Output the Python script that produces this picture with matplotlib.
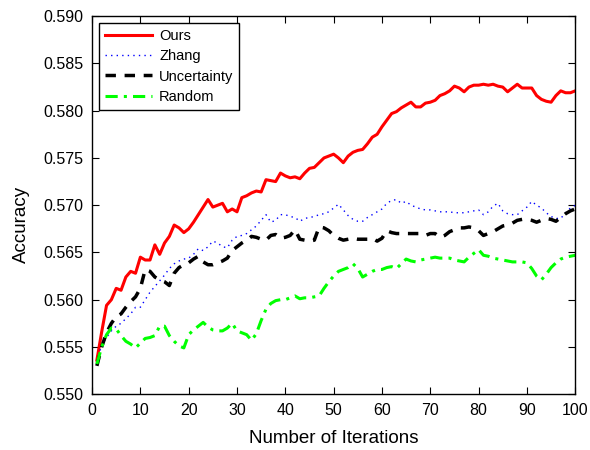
import matplotlib
matplotlib.use("Agg")
import matplotlib.pyplot as plt
import numpy as np

plt.rcParams['font.family'] = ['Liberation Sans', 'DejaVu Sans']

iterations = list(range(1, 101))

ours = [0.5536, 0.5566, 0.5594, 0.5600, 0.5612, 0.5610, 0.5624, 0.5630, 0.5628, 0.5645,
        0.5642, 0.5642, 0.5658, 0.5648, 0.5660, 0.5667, 0.5679, 0.5676, 0.5671, 0.5675,
        0.5682, 0.5690, 0.5698, 0.5706, 0.5698, 0.5700, 0.5702, 0.5693, 0.5696, 0.5693,
        0.5708, 0.5710, 0.5713, 0.5715, 0.5714, 0.5727, 0.5726, 0.5725, 0.5734, 0.5731,
        0.5729, 0.5730, 0.5728, 0.5734, 0.5739, 0.5740, 0.5745, 0.5750, 0.5752, 0.5754,
        0.5750, 0.5745, 0.5752, 0.5756, 0.5758, 0.5759, 0.5765, 0.5772, 0.5775, 0.5783,
        0.5790, 0.5797, 0.5799, 0.5803, 0.5806, 0.5809, 0.5804, 0.5804, 0.5808, 0.5809,
        0.5811, 0.5816, 0.5818, 0.5821, 0.5826, 0.5824, 0.5820, 0.5825, 0.5827, 0.5827,
        0.5828, 0.5827, 0.5828, 0.5826, 0.5825, 0.5820, 0.5824, 0.5828, 0.5824, 0.5824,
        0.5824, 0.5816, 0.5812, 0.5810, 0.5809, 0.5816, 0.5821, 0.5819, 0.5819, 0.5821]

zhang = [0.5535, 0.5552, 0.5560, 0.5567, 0.5572, 0.5575, 0.5580, 0.5585, 0.5592, 0.5592,
         0.5600, 0.5608, 0.5614, 0.5620, 0.5626, 0.5633, 0.5638, 0.5641, 0.5643, 0.5644,
         0.5648, 0.5654, 0.5652, 0.5656, 0.5662, 0.5660, 0.5656, 0.5655, 0.5663, 0.5667,
         0.5668, 0.5670, 0.5674, 0.5678, 0.5684, 0.5690, 0.5682, 0.5684, 0.5690, 0.5690,
         0.5688, 0.5687, 0.5683, 0.5686, 0.5687, 0.5688, 0.5690, 0.5691, 0.5693, 0.5697,
         0.5701, 0.5695, 0.5689, 0.5685, 0.5683, 0.5683, 0.5687, 0.5690, 0.5693, 0.5696,
         0.5702, 0.5705, 0.5706, 0.5702, 0.5704, 0.5700, 0.5698, 0.5696, 0.5695, 0.5695,
         0.5694, 0.5693, 0.5693, 0.5693, 0.5692, 0.5692, 0.5692, 0.5693, 0.5694, 0.5695,
         0.5690, 0.5693, 0.5699, 0.5702, 0.5694, 0.5691, 0.5690, 0.5690, 0.5694, 0.5698,
         0.5704, 0.5700, 0.5697, 0.5692, 0.5688, 0.5686, 0.5686, 0.5692, 0.5697, 0.5700]

uncertainty = [0.5530, 0.5550, 0.5565, 0.5575, 0.5582, 0.5585, 0.5592, 0.5598, 0.5603, 0.5612,
               0.5632, 0.5630, 0.5624, 0.5621, 0.5619, 0.5615, 0.5628, 0.5634, 0.5637, 0.5639,
               0.5643, 0.5646, 0.5640, 0.5637, 0.5637, 0.5639, 0.5641, 0.5644, 0.5652, 0.5656,
               0.5660, 0.5663, 0.5667, 0.5666, 0.5664, 0.5663, 0.5668, 0.5669, 0.5665, 0.5666,
               0.5668, 0.5674, 0.5664, 0.5663, 0.5662, 0.5663, 0.5677, 0.5676, 0.5673, 0.5668,
               0.5665, 0.5663, 0.5664, 0.5665, 0.5664, 0.5664, 0.5664, 0.5665, 0.5662, 0.5665,
               0.5673, 0.5671, 0.5670, 0.5670, 0.5670, 0.5670, 0.5670, 0.5670, 0.5668, 0.5670,
               0.5670, 0.5666, 0.5668, 0.5672, 0.5674, 0.5676, 0.5676, 0.5677, 0.5676, 0.5673,
               0.5668, 0.5670, 0.5672, 0.5675, 0.5678, 0.5679, 0.5681, 0.5684, 0.5685, 0.5685,
               0.5684, 0.5682, 0.5684, 0.5686, 0.5685, 0.5683, 0.5687, 0.5691, 0.5694, 0.5696]

random_sel = [0.5532, 0.5550, 0.5563, 0.5570, 0.5569, 0.5562, 0.5556, 0.5553, 0.5549, 0.5554,
              0.5559, 0.5560, 0.5562, 0.5572, 0.5572, 0.5562, 0.5556, 0.5551, 0.5549, 0.5563,
              0.5568, 0.5572, 0.5576, 0.5571, 0.5568, 0.5567, 0.5567, 0.5570, 0.5575, 0.5567,
              0.5565, 0.5563, 0.5557, 0.5564, 0.5578, 0.5590, 0.5596, 0.5599, 0.5600, 0.5600,
              0.5602, 0.5604, 0.5601, 0.5602, 0.5602, 0.5603, 0.5604, 0.5612, 0.5619, 0.5625,
              0.5630, 0.5632, 0.5634, 0.5638, 0.5633, 0.5624, 0.5627, 0.5630, 0.5632, 0.5632,
              0.5634, 0.5635, 0.5633, 0.5638, 0.5643, 0.5641, 0.5640, 0.5642, 0.5643, 0.5644,
              0.5645, 0.5644, 0.5644, 0.5644, 0.5642, 0.5641, 0.5640, 0.5645, 0.5649, 0.5653,
              0.5647, 0.5646, 0.5644, 0.5643, 0.5642, 0.5641, 0.5640, 0.5640, 0.5640, 0.5639,
              0.5633, 0.5625, 0.5621, 0.5627, 0.5634, 0.5639, 0.5643, 0.5645, 0.5646, 0.5647]

x_ticks = list(range(0, 101, 10))
y_ticks = [0.550, 0.555, 0.560, 0.565, 0.570, 0.575, 0.580, 0.585, 0.590]

fig = plt.figure(figsize=(5.9, 4.5), dpi=100)
ax = fig.add_axes([0.156, 0.124, 0.819, 0.840])

ax.plot(iterations, ours, color='#ff0000', lw=2.2, ls='-', label='Ours')
ax.plot(iterations, zhang, color='#0000ff', lw=1.0, ls=(0, (1, 3)), label='Zhang')
ax.plot(iterations, uncertainty, color='black', lw=2.5, ls=(0, (3, 2.5)), label='Uncertainty')
ax.plot(iterations, random_sel, color='#00ff00', lw=2.2, ls=(0, (4, 2, 1, 2)), label='Random')

ax.set_xlim(0, 100)
ax.set_ylim(0.550, 0.590)
ax.set_xticks(x_ticks)
ax.set_yticks(y_ticks)
ax.set_yticklabels([f"{v:.3f}" for v in y_ticks])
ax.tick_params(direction='in', top=True, right=True, length=5, width=0.8, labelsize=11.5, pad=6)
for s in ax.spines.values():
    s.set_linewidth(1.0)

ax.set_xlabel('Number of Iterations', fontsize=13.5, labelpad=9)
ax.set_ylabel('Accuracy', fontsize=13.5)
ax.yaxis.set_label_coords(-0.128, 0.45)

leg = ax.legend(loc='upper left', fontsize=10.5, fancybox=False, framealpha=1,
                edgecolor='black', handlelength=3.2, handletextpad=0.5, borderpad=0.4,
                labelspacing=0.42, bbox_to_anchor=(0.0, 1.0))
leg.get_frame().set_linewidth(1.0)

fig.savefig('out.png', dpi=100)
